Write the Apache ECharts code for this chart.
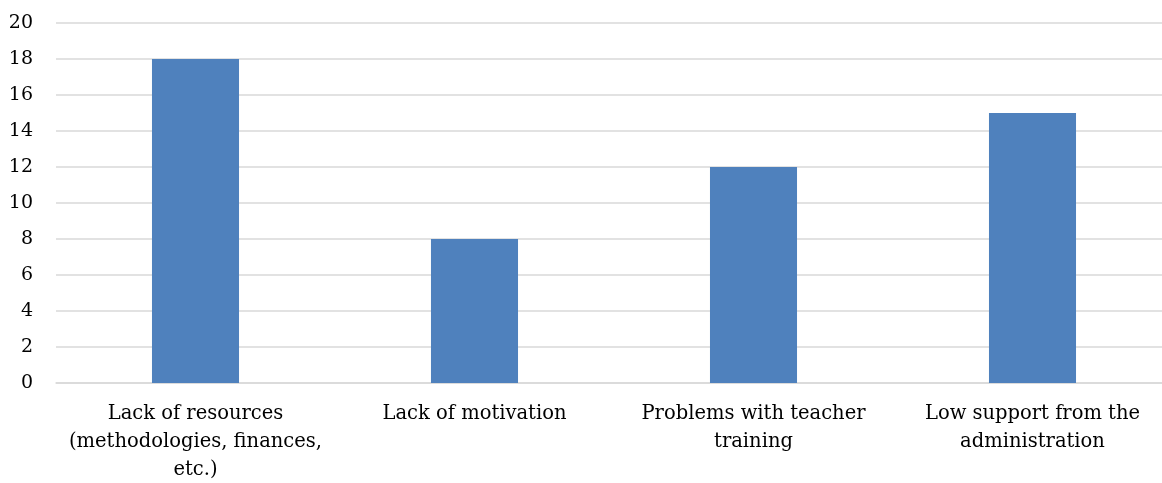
<!DOCTYPE html>
<html>
<head>
<meta charset="utf-8">
<script src="https://cdn.jsdelivr.net/npm/echarts@6/dist/echarts.min.js"></script>
<style>
  html, body { margin: 0; padding: 0; background: #fff; }
  #chart { width: 1162px; height: 483px; }
</style>
</head>
<body>
<div id="chart"></div>
<script>
// Reported barriers and how many respondents named each one
const categories = [
  'Lack of resources\n(methodologies, finances,\netc.)',
  'Lack of motivation',
  'Problems with teacher\ntraining',
  'Low support from the\nadministration'
];
const counts = [18, 8, 12, 15];

const chart = echarts.init(document.getElementById('chart'));
const serif = '"DejaVu Serif", "Liberation Serif", serif';

chart.setOption({
  animation: false,
  // the plot runs slightly past the right edge of the canvas
  grid: {
    left: 56, right: -10, top: 23, bottom: 100,
    containLabel: false,
    outerBoundsMode: 'none'
  },
  xAxis: {
    type: 'category',
    data: categories,
    axisLine: { show: true, lineStyle: { color: '#d9d9d9', width: 1.5 } },
    axisTick: { show: false },
    axisLabel: {
      color: '#000',
      fontFamily: serif,
      fontSize: 19.5,
      lineHeight: 28,
      margin: 17,
      interval: 0
    }
  },
  yAxis: {
    type: 'value',
    min: 0,
    max: 20,
    interval: 2,
    axisLine: { show: false },
    axisTick: { show: false },
    splitLine: { lineStyle: { color: '#d9d9d9', width: 1.5 } },
    axisLabel: {
      color: '#000',
      fontFamily: serif,
      fontSize: 19,
      margin: 23
    }
  },
  series: [{
    type: 'bar',
    data: counts,
    barWidth: '31.2%',
    itemStyle: { color: '#4f81bd' }
  }]
});
</script>
</body>
</html>
